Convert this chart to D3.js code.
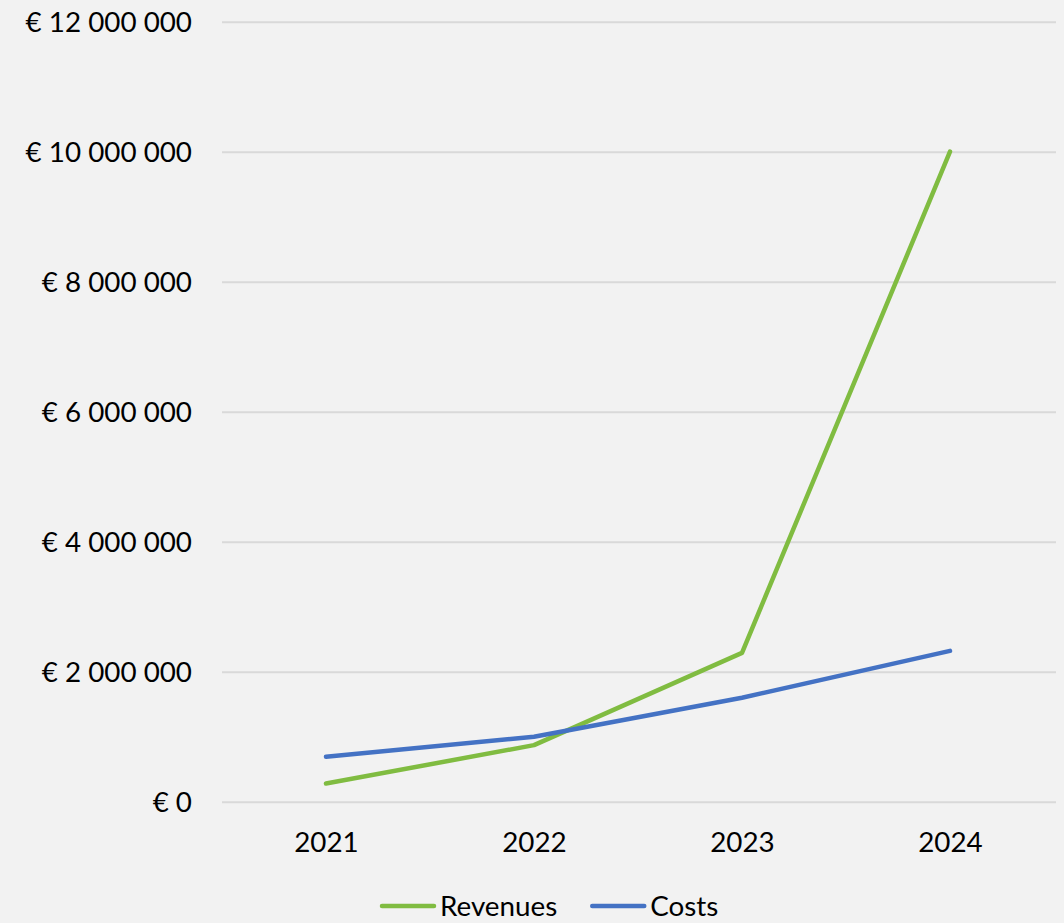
<!DOCTYPE html>
<html>
<head>
<meta charset="utf-8">
<script src="https://cdn.jsdelivr.net/npm/d3@7"></script>
<style>
  html, body { margin: 0; padding: 0; background: #f2f2f2; }
  svg { display: block; }
  text { font-family: Lato, "Open Sans", sans-serif; fill: #000; }
</style>
</head>
<body>
<svg id="chart"></svg>
<script>
const years = ['2021', '2022', '2023', '2024'];
const revenues = [280000, 870000, 2290000, 10000000];
const costs = [690000, 1000000, 1600000, 2320000];
const yTicks = [0, 2000000, 4000000, 6000000, 8000000, 10000000, 12000000];

const seriesNames = ['Revenues', 'Costs'];
const seriesColors = ['#80bc41', '#4472c4'];

const width = 1064, height = 923;
const fontSize = 27.8;
const svg = d3.select('#chart').attr('width', width).attr('height', height);

svg.append('rect').attr('width', width).attr('height', height).attr('fill', '#f2f2f2');

const xs = d3.scalePoint().domain(years).range([222, 1054]).padding(0.5);
const ys = d3.scaleLinear().domain([0, 12000000]).range([801.7, 21.7]);

const euro = (d) => '€ ' + d3.format(',')(d).replace(/,/g, ' ');

// gridlines + y labels
const yAxis = svg.append('g')
    .attr('transform', 'translate(222,0)')
    .call(d3.axisLeft(ys).tickValues(yTicks).tickSize(-834).tickPadding(30).tickFormat(euro));
yAxis.select('.domain').remove();
yAxis.selectAll('.tick line').attr('stroke', '#d9d9d9').attr('stroke-width', 2);
yAxis.selectAll('.tick text')
    .attr('font-size', fontSize).attr('font-family', 'Lato, sans-serif').attr('fill', '#000')
    .attr('dy', '0.36em');

// x labels
const xAxis = svg.append('g')
    .attr('transform', 'translate(0,801.7)')
    .call(d3.axisBottom(xs).tickSize(0).tickPadding(31));
xAxis.select('.domain').remove();
xAxis.selectAll('.tick text')
    .attr('font-size', fontSize).attr('font-family', 'Lato, sans-serif').attr('fill', '#000')
    .attr('dy', '0.71em');

// lines
const line = d3.line().x((d, i) => xs(years[i])).y(d => ys(d));
[revenues, costs].forEach((values, k) => {
    svg.append('path')
        .datum(values)
        .attr('d', line)
        .attr('fill', 'none')
        .attr('stroke', seriesColors[k])
        .attr('stroke-width', 4.5)
        .attr('stroke-linecap', 'round')
        .attr('stroke-linejoin', 'round');
});

// legend
const legend = svg.append('g').attr('transform', 'translate(380,906)');
let lx = 0;
seriesNames.forEach((name, k) => {
    legend.append('line')
        .attr('x1', lx + 2).attr('x2', lx + 54)
        .attr('y1', 0).attr('y2', 0)
        .attr('stroke', seriesColors[k]).attr('stroke-width', 4.5)
        .attr('stroke-linecap', 'round');
    const t = legend.append('text')
        .attr('x', lx + 60).attr('y', 0).attr('dy', '0.36em')
        .attr('font-size', fontSize)
        .text(name);
    lx += 60 + t.node().getComputedTextLength() + 33;
});
</script>
</body>
</html>
